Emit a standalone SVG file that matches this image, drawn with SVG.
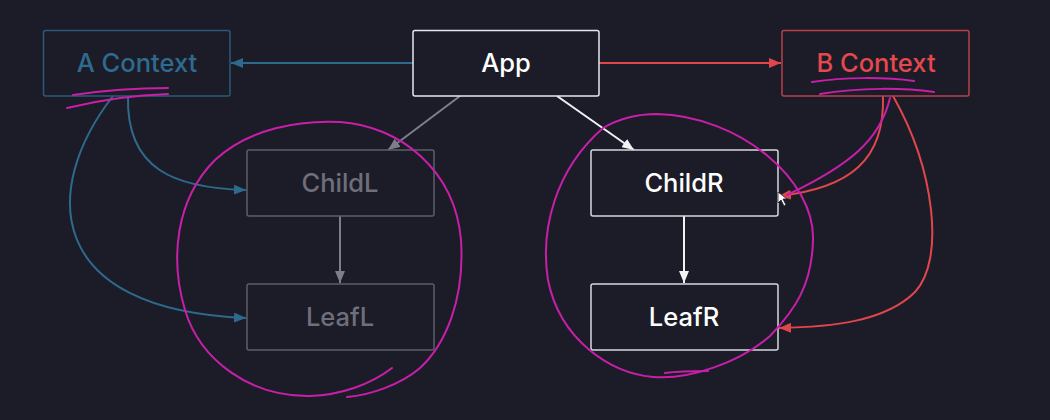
<svg xmlns="http://www.w3.org/2000/svg" width="1050" height="420" viewBox="0 0 1050 420">
<defs>
<style>
.box{fill:#1c1c29;stroke-width:1.5}
.lbl{font-family:Inter,"Liberation Sans",sans-serif;font-size:25.5px;font-weight:500;text-anchor:middle}
.c{fill:none;stroke-width:2}
.blue{stroke:#2d6a8c}
.red{stroke:#e0464b}
.gray{stroke:#7d7e88}
.white{stroke:#f2f2f5}
.ink{fill:none;stroke:#c81fa8;stroke-width:2;stroke-linecap:round}
</style>
<marker id="ab" viewBox="0 0 12 10" refX="12" refY="5" markerWidth="12" markerHeight="10" markerUnits="userSpaceOnUse" orient="auto"><path d="M0,0L12,5L0,10z" fill="#2d6a8c"/></marker>
<marker id="ar" viewBox="0 0 12 10" refX="12" refY="5" markerWidth="12" markerHeight="10" markerUnits="userSpaceOnUse" orient="auto"><path d="M0,0L12,5L0,10z" fill="#e0464b"/></marker>
<marker id="ag" viewBox="0 0 12 10" refX="12" refY="5" markerWidth="12" markerHeight="10" markerUnits="userSpaceOnUse" orient="auto"><path d="M0,0L12,5L0,10z" fill="#7d7e88"/></marker>
<marker id="aw" viewBox="0 0 12 10" refX="12" refY="5" markerWidth="12" markerHeight="10" markerUnits="userSpaceOnUse" orient="auto"><path d="M0,0L12,5L0,10z" fill="#f2f2f5"/></marker>
</defs>
<rect width="1050" height="420" fill="#1c1c29"/>

<g id="connectors">
<path class="c blue" d="M413,63H231" marker-end="url(#ab)"/>
<path class="c red" d="M599,63H781" marker-end="url(#ar)"/>
<path class="c gray" d="M460,96L388,150" marker-end="url(#ag)"/>
<path class="c white" d="M557,96L634,150" marker-end="url(#aw)"/>
<path class="c gray" d="M340,216V283" marker-end="url(#ag)"/>
<path class="c white" d="M684,216V283" marker-end="url(#aw)"/>
<path class="c blue" d="M128,96C126,170 175,188 246,190" marker-end="url(#ab)"/>
<path class="c blue" d="M113,96C40,190 45,310 246,318" marker-end="url(#ab)"/>
<path class="c red" d="M883,96C885,160 850,188 779,196" marker-end="url(#ar)"/>
<path class="c red" d="M893,96C935,170 945,260 915,292C885,322 830,327 779,328" marker-end="url(#ar)"/>
</g>

<g id="a-context">
<rect class="box" x="43.5" y="30.5" width="186.5" height="65.5" rx="2" stroke="#2a5a78"/>
<text class="lbl" x="137" y="72" fill="#2e6b8f">A Context</text>
</g>
<g id="app">
<rect class="box" x="413" y="30.5" width="186" height="65.5" rx="2" stroke="#e6e6ec"/>
<text class="lbl" x="506" y="72" fill="#ffffff">App</text>
</g>
<g id="b-context">
<rect class="box" x="782" y="30.5" width="187" height="65.5" rx="2" stroke="#b8404a"/>
<text class="lbl" x="876" y="72" fill="#e5484d">B Context</text>
</g>
<g id="childl">
<rect class="box" x="247" y="150" width="187" height="66" rx="2" stroke="#5c5d6a"/>
<text class="lbl" x="340" y="192" fill="#6e6f7a">ChildL</text>
</g>
<g id="leafl">
<rect class="box" x="247" y="284" width="187" height="66" rx="2" stroke="#5c5d6a"/>
<text class="lbl" x="340" y="326" fill="#6e6f7a">LeafL</text>
</g>
<g id="childr">
<rect class="box" x="591" y="150" width="187" height="66" rx="2" stroke="#d6d6de"/>
<text class="lbl" x="684" y="192" fill="#ffffff">ChildR</text>
</g>
<g id="leafr">
<rect class="box" x="591" y="284" width="187" height="66" rx="2" stroke="#d6d6de"/>
<text class="lbl" x="684" y="326" fill="#ffffff">LeafR</text>
</g>

<g id="annotations">
<path class="ink" d="M73,95C100,91 135,88 168,88"/>
<path class="ink" d="M67,108C100,100 135,95 168,94"/>
<path class="ink" d="M812,82C845,77 885,77 914,81"/>
<path class="ink" d="M820,94C860,87 905,88 934,92"/>
<path class="ink" d="M890,98C880,140 850,165 787,195"/>
<path class="ink" d="M392,368C370,385 340,395 310,396C250,397 200,360 185,310C170,260 175,200 215,160C250,128 300,120 340,122C400,126 455,170 461,240C465,300 445,345 420,368C400,385 370,395 347,397"/>
<path class="ink" d="M603,128C620,118 640,114 657,114C740,116 815,180 813,240C812,285 795,310 770,336C740,362 690,380 653,377C610,373 560,340 548,280C540,230 555,170 603,128"/>
<path class="ink" d="M665,373C680,371 695,371 708,371"/>
</g>
<g id="cursor">
<path d="M778,192L778,203L781,200L784,206L786,205L783,199L787,199Z" fill="#ffffff" stroke="#1c1c29" stroke-width="0.8"/>
</g>
</svg>
